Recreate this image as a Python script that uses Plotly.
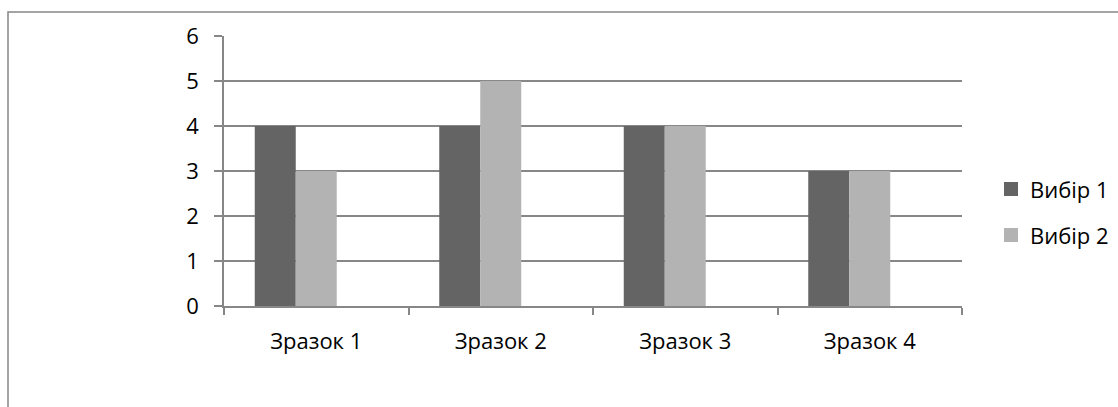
import plotly.graph_objects as go

categories = ["Зразок 1", "Зразок 2", "Зразок 3", "Зразок 4"]
series_names = ["Вибір 1", "Вибір 2"]
vybir1 = [4, 4, 4, 3]
vybir2 = [3, 5, 4, 3]
colors = ["#646464", "#b3b3b3"]
y_ticks = [0, 1, 2, 3, 4, 5, 6]

fig = go.Figure()
for name, vals, col in zip(series_names, [vybir1, vybir2], colors):
    fig.add_trace(go.Bar(x=categories, y=vals, name=name, showlegend=False,
                         marker=dict(color=col, line=dict(width=0))))
# empty third series slot (as in the original clustered layout)
fig.add_trace(go.Bar(x=categories, y=[None] * 4, showlegend=False, hoverinfo="skip"))

font = "Open Sans, Noto Sans, sans-serif"
grid = "#878787"
fs = 22

# legend drawn in paper coordinates (plot area: x 224..962 px, y 36..306 px)
W, H = 738, 270
def px_x(p):
    return (p - 224) / W
def px_y(p):
    return (306 - p) / H

shapes = [dict(type="rect", xref="paper", yref="paper",
               x0=px_x(8), x1=1.4, y0=-0.6, y1=px_y(12),
               line=dict(color=grid, width=1.5), fillcolor="rgba(0,0,0,0)", layer="below")]
annotations = []
for i, (name, col) in enumerate(zip(series_names, colors)):
    cy = 189 + 46 * i
    shapes.append(dict(type="rect", xref="paper", yref="paper",
                       x0=px_x(1004), x1=px_x(1018), y0=px_y(cy + 7), y1=px_y(cy - 7),
                       fillcolor=col, line=dict(width=0)))
    annotations.append(dict(xref="paper", yref="paper", x=px_x(1028), y=px_y(cy),
                            xanchor="left", yanchor="middle", text=name, showarrow=False,
                            font=dict(size=fs, family=font, color="#000000")))

fig.update_layout(
    width=1118, height=407,
    margin=dict(l=224, r=156, t=36, b=101),
    paper_bgcolor="white", plot_bgcolor="white",
    barmode="group", bargap=1.5 / 4.5, bargroupgap=0,
    font=dict(family=font, size=fs, color="#000000"),
    showlegend=False,
    xaxis=dict(type="category", tickson="boundaries", ticks="outside", ticklen=7,
               tickcolor=grid, tickwidth=1.5, showline=True, linecolor=grid, linewidth=1.5,
               showgrid=False, ticklabelstandoff=15, tickfont=dict(size=fs)),
    yaxis=dict(range=[0, 6], tickvals=y_ticks, ticks="outside", ticklen=8,
               tickcolor=grid, tickwidth=1.5, showline=True, linecolor=grid, linewidth=1.5,
               showgrid=True, gridcolor=grid, gridwidth=1.5, zeroline=False,
               ticklabelstandoff=11, tickfont=dict(size=fs)),
    shapes=shapes,
    annotations=annotations,
)

fig.write_html("out.html")
